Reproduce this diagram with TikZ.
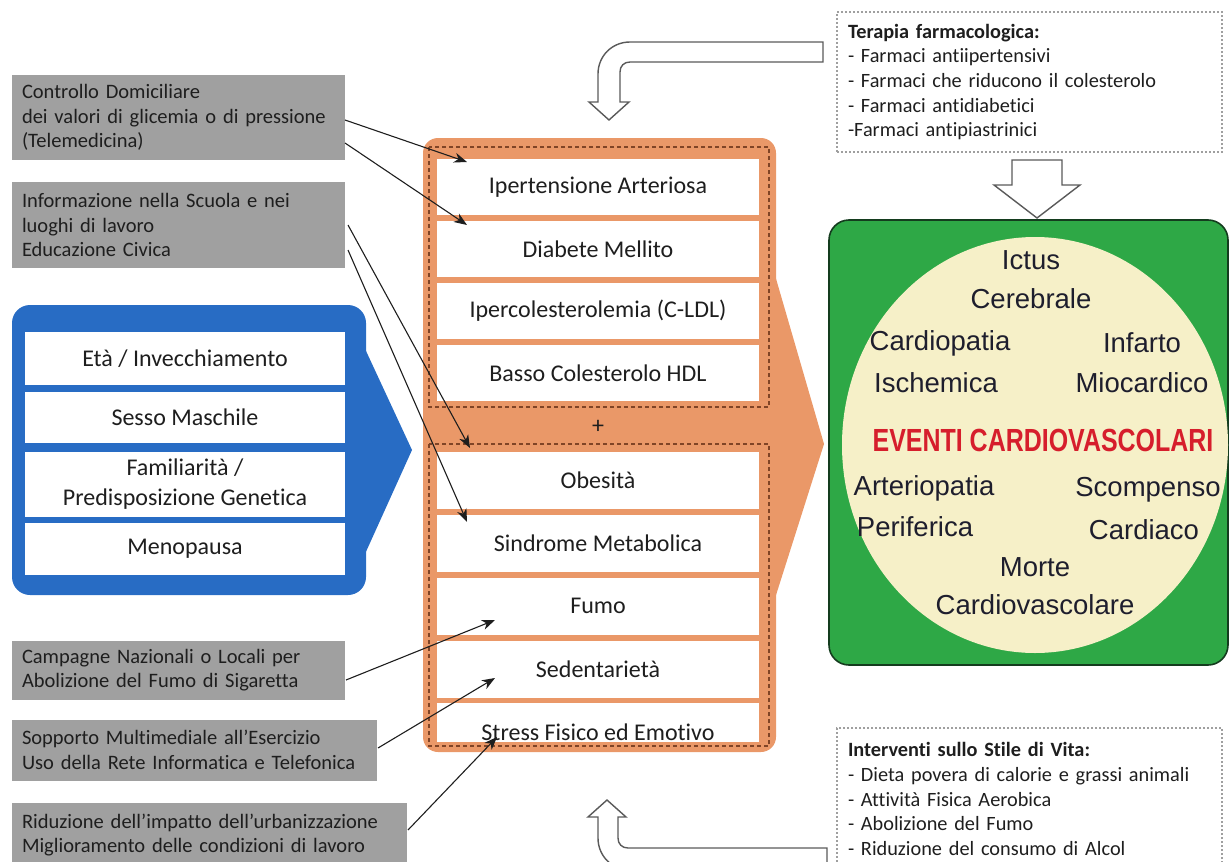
\documentclass[tikz,border=0pt]{standalone}
\usepackage{fontspec}
\setmainfont[Ligatures=NoCommon]{Carlito}
\newfontfamily\arialf{Liberation Sans}
\usetikzlibrary{arrows.meta}
\definecolor{boxgray}{RGB}{160,160,160}
\definecolor{bluef}{RGB}{40,108,196}
\definecolor{orangef}{RGB}{234,152,104}
\definecolor{dashbrown}{RGB}{128,68,38}
\definecolor{greenf}{RGB}{46,168,70}
\definecolor{greend}{RGB}{20,60,30}
\definecolor{creamf}{RGB}{246,240,200}
\definecolor{redt}{RGB}{214,30,44}
\definecolor{txt}{RGB}{30,30,30}
\definecolor{circtxt}{RGB}{30,30,45}
\definecolor{hollowc}{RGB}{90,90,90}
\begin{document}
\begin{tikzpicture}[x=1pt,y=-1pt,
  graybox/.style={fill=boxgray, inner xsep=10pt, inner ysep=0pt, align=left, text=txt,
    font=\fontsize{20.5}{24.5}\selectfont},
  row/.style={fill=white, inner sep=0pt, text=txt, font=\fontsize{24}{28}\selectfont},
  brow/.style={fill=white, inner sep=0pt, text=txt, font=\fontsize{24}{30}\selectfont, align=center},
  arr/.style={draw=txt, line width=1.1pt, -{Stealth[length=13pt,width=10pt,inset=4pt]}},
  dbox/.style={draw=dashbrown, line width=1.6pt, dash pattern=on 4pt off 3pt},
  notebox/.style={draw=gray!75, line width=1.3pt, dash pattern=on 2pt off 2pt, inner xsep=11pt,
    inner ysep=0pt, align=left, text=txt, font=\fontsize{20.3}{24.6}\selectfont},
  hollow/.style={draw=hollowc, line width=1.4pt, fill=white},
  ctext/.style={text=circtxt, font=\arialf\fontsize{27.5}{32}\selectfont, inner sep=0pt}
]
\useasboundingbox (0,0) rectangle (1229,862);

% ---------- gray boxes ----------
\node[graybox, minimum width=333, minimum height=85, text width=313] (g1) at (178.5,117.5)
  {Controllo Domiciliare\\dei valori di glicemia o di pressione\\(Telemedicina)};
\node[graybox, minimum width=333, minimum height=86, text width=313] (g2) at (178.5,225)
  {Informazione nella Scuola e nei\\luoghi di lavoro\\Educazione Civica};
\node[graybox, minimum width=333, minimum height=59, text width=313] (g3) at (178.5,670)
  {Campagne Nazionali o Locali per\\Abolizione del Fumo di Sigaretta};
\node[graybox, minimum width=365, minimum height=61, text width=345] (g4) at (194.5,750)
  {Sopporto Multimediale all’Esercizio\\Uso della Rete Informatica e Telefonica};
\node[graybox, minimum width=395, minimum height=64, text width=375] (g5) at (209.5,835)
  {Riduzione dell’impatto dell’urbanizzazione\\Miglioramento delle condizioni di lavoro};

% ---------- blue block ----------
\fill[bluef, rounded corners=18] (12,305) rectangle (366,595);
\fill[bluef] (360,338) -- (412,450) -- (360,565) -- cycle;
\node[brow, minimum width=320, minimum height=53] (b1) at (185,358.5) {Età / Invecchiamento};
\node[brow, minimum width=320, minimum height=51] (b2) at (185,417.5) {Sesso Maschile};
\node[brow, minimum width=320, minimum height=65] (b3) at (185,484.5) {Familiarità /\\Predisposizione Genetica};
\node[brow, minimum width=320, minimum height=52] (b4) at (185,549) {Menopausa};

% ---------- orange block ----------
\fill[orangef, rounded corners=15] (423,138) rectangle (776,752);
\fill[orangef] (770,258) -- (824,444) -- (770,614) -- cycle;
\node[row, minimum width=322, minimum height=56] (o1) at (598,187) {Ipertensione Arteriosa};
\node[row, minimum width=322, minimum height=56] (o2) at (598,249) {Diabete Mellito};
\node[row, minimum width=322, minimum height=56] (o3) at (598,311) {Ipercolesterolemia (C-LDL)};
\node[row, minimum width=322, minimum height=56] (o4) at (598,373) {Basso Colesterolo HDL};
\node[text=txt, font=\fontsize{24}{28}\selectfont, inner sep=0pt] (plus) at (598,427) {+};
\node[row, minimum width=322, minimum height=57] (o5) at (598,480) {Obesità};
\node[row, minimum width=322, minimum height=57] (o6) at (598,543) {Sindrome Metabolica};
\node[row, minimum width=322, minimum height=57] (o7) at (598,606) {Fumo};
\node[row, minimum width=322, minimum height=57] (o8) at (598,669) {Sedentarietà};
\node[row, minimum width=322, anchor=north, text height=37pt, text depth=2pt] (o9) at (598,703) {Stress Fisico ed Emotivo};
\draw[dbox] (429,147) rectangle (769,407);
\draw[dbox] (429,444) rectangle (769,746);

% ---------- arrows ----------
\coordinate (s1) at (345,120);  \coordinate (e1) at (467,162);
\coordinate (s2) at (345,143);  \coordinate (e2) at (467,225);
\coordinate (s3) at (348,225);  \coordinate (e3) at (470,448);
\coordinate (s4) at (348,250);  \coordinate (e4) at (467,522);
\coordinate (s5) at (346,680);  \coordinate (e5) at (495,620);
\coordinate (s6) at (378,748);  \coordinate (e6) at (495,678);
\coordinate (s7) at (408,830);  \coordinate (e7) at (497,737);
\draw[arr] (s1) -- (e1);
\draw[arr] (s2) -- (e2);
\draw[arr] (s3) -- (e3);
\draw[arr] (s4) -- (e4);
\draw[arr] (s5) -- (e5);
\draw[arr] (s6) -- (e6);
\draw[arr] (s7) -- (e7);

% ---------- right notes ----------
\node[notebox, minimum width=385, minimum height=140, text width=363] (tbox) at (1029.5,82)
  {\textbf{Terapia farmacologica:}\\- Farmaci antiipertensivi\\- Farmaci che riducono il colesterolo\\- Farmaci antidiabetici\\-Farmaci antipiastrinici};
\node[notebox, minimum width=385, minimum height=142, text width=363] (lbox) at (1029.5,799)
  {\textbf{Interventi sullo Stile di Vita:}\\- Dieta povera di calorie e grassi animali\\- Attività Fisica Aerobica\\- Abolizione del Fumo\\- Riduzione del consumo di Alcol};

% hollow arrows
\draw[hollow] (1012,160) -- (1062,160) -- (1062,185) -- (1080,185) -- (1037,218) -- (994,185) -- (1012,185) -- cycle;
\draw[hollow] (823,42) -- (630,42) .. controls (612,42) and (598,56) .. (598,74) -- (598,102) -- (589,102)
  -- (609,120) -- (629,102) -- (620,102) -- (620,72) .. controls (620,66) and (624,62) .. (630,62) -- (823,62) -- cycle;
\draw[hollow] (607,800) -- (626,817) -- (618,817) -- (618,838) .. controls (618,844) and (622,848) .. (628,848)
  -- (827,848) -- (827,870) -- (630,870) .. controls (612,870) and (598,856) .. (598,838) -- (598,817) -- (588,817) -- cycle;

% ---------- green events ----------
\draw[fill=greenf, draw=greend, line width=1.6pt, rounded corners=20] (829,220) rectangle (1228,665);
\fill[creamf] (1035,445) ellipse [x radius=193, y radius=208];
\node[ctext] (c1) at (1031,260) {Ictus};
\node[ctext] (c2) at (1031,299) {Cerebrale};
\node[ctext] (c3) at (940,343) {Cardiopatia};
\node[ctext] (c4) at (1142,343) {Infarto};
\node[ctext] (c5) at (936,383) {Ischemica};
\node[ctext] (c6) at (1142,383) {Miocardico};
\node[text=redt, inner sep=0pt] (ev) at (1043,440)
  {\scalebox{0.78}[1]{\arialf\bfseries\fontsize{32}{36}\selectfont EVENTI CARDIOVASCOLARI}};
\node[ctext] (c7) at (924,488) {Arteriopatia};
\node[ctext] (c8) at (1148,490) {Scompenso};
\node[ctext] (c9) at (915,527) {Periferica};
\node[ctext] (c10) at (1144,530) {Cardiaco};
\node[ctext] (c11) at (1035,567) {Morte};
\node[ctext] (c12) at (1035,605) {Cardiovascolare};
\end{tikzpicture}
\end{document}
